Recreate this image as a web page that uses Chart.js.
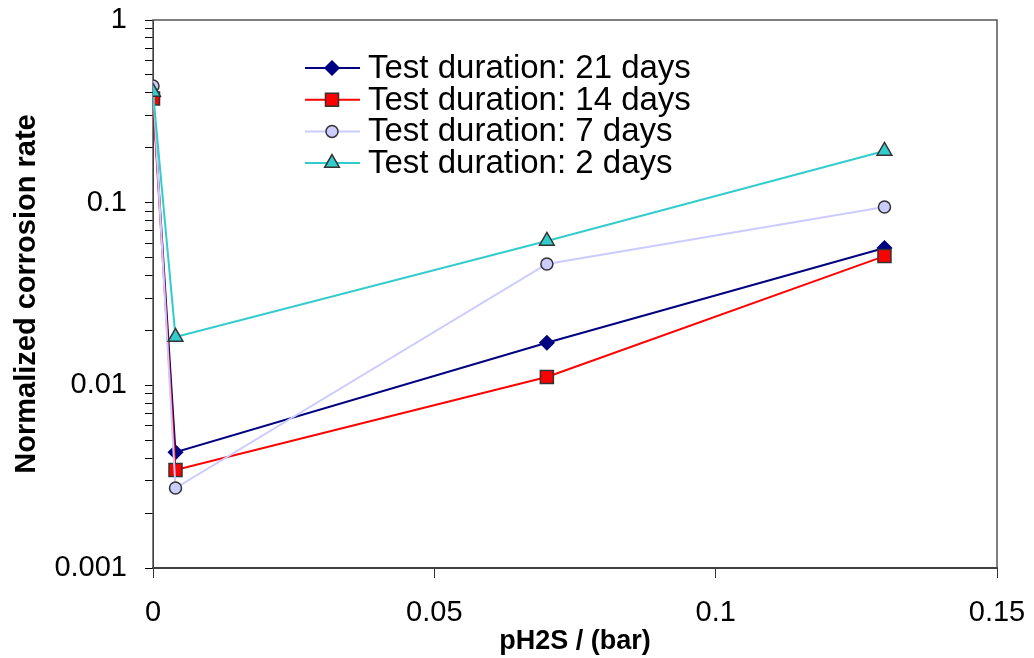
<!DOCTYPE html>
<html>
<head>
<meta charset="utf-8">
<script src="https://cdn.jsdelivr.net/npm/chart.js@4.4.1/dist/chart.umd.min.js"></script>
<style>
  body { margin: 0; background: #fff; }
  #wrap { width: 1034px; height: 658px; }
</style>
</head>
<body>
<div id="wrap"><canvas id="corrChart"></canvas></div>
<script>
// pH2S (bar) and normalized corrosion rate per test duration
const ph2s = [0, 0.004, 0.07, 0.13];
const rate21 = [0.38, 0.0043, 0.0171, 0.0565];
const rate14 = [0.372, 0.00344, 0.0111, 0.051];
const rate7 = [0.435, 0.00274, 0.0462, 0.0947];
const rate2 = [0.404, 0.0184, 0.0617, 0.192];

const seriesLabels = [
    'Test duration: 21 days',
    'Test duration: 14 days',
    'Test duration: 7 days',
    'Test duration: 2 days'
];
const xTicks = [0, 0.05, 0.1, 0.15];
const yDecades = [0.001, 0.01, 0.1, 1];
const yDecadeLabels = ['0.001', '0.01', '0.1', '1'];

function toPoints(values) {
    return ph2s.map(function(x, i) { return { x: x, y: values[i] }; });
}

// minor ticks 2..9 inside each decade
const yTicks = [];
yDecades.forEach(function(d, i) {
    yTicks.push(d);
    if (i < yDecades.length - 1) {
        for (let m = 2; m <= 9; m++) yTicks.push(+(d * m).toPrecision(3));
    }
});

const FONT = "'Liberation Sans', Arial, sans-serif";

// box round the plot area
const frame = {
    id: 'frame',
    beforeDatasetsDraw(chart) {
        const a = chart.chartArea;
        const ctx = chart.ctx;
        ctx.save();
        ctx.strokeStyle = '#555';
        ctx.lineWidth = 1.5;
        ctx.strokeRect(a.left, a.top, a.right - a.left, a.bottom - a.top);
        ctx.restore();
    }
};

// legend inside the plot, line with marker like the original
const insideLegend = {
    id: 'insideLegend',
    afterDraw(chart) {
        const ctx = chart.ctx;
        ctx.save();
        chart.data.datasets.forEach(function(ds, i) {
            const y = 68 + i * 31.7;
            ctx.strokeStyle = ds.borderColor;
            ctx.lineWidth = 2;
            ctx.beginPath();
            ctx.moveTo(305, y);
            ctx.lineTo(360, y);
            ctx.stroke();
            ctx.fillStyle = ds.pointBackgroundColor;
            ctx.strokeStyle = ds.pointBorderColor;
            ctx.lineWidth = ds.pointBorderWidth;
            Chart.helpers.drawPoint(ctx, {
                pointStyle: ds.pointStyle,
                radius: ds.pointRadius,
                borderWidth: ds.pointBorderWidth,
                rotation: 0
            }, 332, y);
            ctx.fillStyle = '#000';
            ctx.font = '33px ' + FONT;
            ctx.textBaseline = 'middle';
            ctx.fillText(ds.label, 368, y + 1);
        });
        ctx.restore();
    }
};

function makeSet(label, values, color, style, radius, fill, edge, order) {
    return {
        label: label,
        data: toPoints(values),
        showLine: true,
        borderColor: color,
        borderWidth: 2,
        pointStyle: style,
        pointRadius: radius,
        pointHoverRadius: radius,
        pointBackgroundColor: fill,
        pointBorderColor: edge,
        pointBorderWidth: 1.5,
        order: order
    };
}

const ctx = document.getElementById('corrChart').getContext('2d');

new Chart(ctx, {
    type: 'scatter',
    data: {
        datasets: [
            makeSet(seriesLabels[0], rate21, '#000080', 'rectRot', 7, '#000080', '#000080', 4),
            makeSet(seriesLabels[1], rate14, '#ff0000', 'rect', 9.2, '#ff0000', '#333333', 3),
            makeSet(seriesLabels[2], rate7, '#ccccff', 'circle', 6, '#ccccff', '#333333', 2),
            makeSet(seriesLabels[3], rate2, '#33cccc', 'triangle', 8.5, '#33cccc', '#333333', 1)
        ]
    },
    options: {
        responsive: true,
        maintainAspectRatio: false,
        animation: false,
        layout: { padding: { top: 20, right: 37, left: 0, bottom: 0 } },
        plugins: {
            legend: { display: false },
            tooltip: { enabled: false }
        },
        scales: {
            x: {
                type: 'linear',
                min: 0,
                max: 0.15,
                afterFit: function(scale) {
                    scale.height = 90;
                    scale.paddingLeft = 0;
                    scale.paddingRight = 0;
                },
                afterBuildTicks: function(scale) {
                    scale.ticks = xTicks.map(function(v) { return { value: v }; });
                },
                ticks: {
                    color: '#000',
                    font: { family: FONT, size: 29 },
                    padding: 18,
                    autoSkip: false,
                    maxRotation: 0,
                    callback: function(v) { return String(+v.toFixed(2)); }
                },
                grid: {
                    drawOnChartArea: false,
                    drawTicks: true,
                    tickLength: 10,
                    color: '#333'
                },
                border: { display: true, color: '#000', width: 2 },
                title: {
                    display: true,
                    text: 'pH2S / (bar)',
                    color: '#000',
                    font: { family: FONT, size: 27, weight: 'bold' },
                    padding: { top: 0, bottom: 0 }
                }
            },
            y: {
                type: 'logarithmic',
                min: 0.001,
                max: 1,
                afterFit: function(scale) {
                    scale.width = 153;
                    scale.paddingTop = 0;
                    scale.paddingBottom = 0;
                },
                afterBuildTicks: function(scale) {
                    scale.ticks = yTicks.map(function(v) { return { value: v }; });
                },
                ticks: {
                    color: '#000',
                    font: { family: FONT, size: 29 },
                    padding: 18,
                    autoSkip: false,
                    callback: function(v) {
                        const k = yDecades.findIndex(function(d) { return Math.abs(d - v) < d * 1e-6; });
                        return k >= 0 ? yDecadeLabels[k] : '';
                    }
                },
                grid: {
                    drawOnChartArea: false,
                    drawTicks: true,
                    tickLength: 8,
                    color: '#000'
                },
                border: { display: true, color: '#000', width: 1 },
                title: {
                    display: true,
                    text: 'Normalized corrosion rate',
                    color: '#000',
                    font: { family: FONT, size: 29, weight: 'bold' },
                    padding: { top: 10, bottom: 0 }
                }
            }
        }
    },
    plugins: [frame, insideLegend]
});
</script>
</body>
</html>
